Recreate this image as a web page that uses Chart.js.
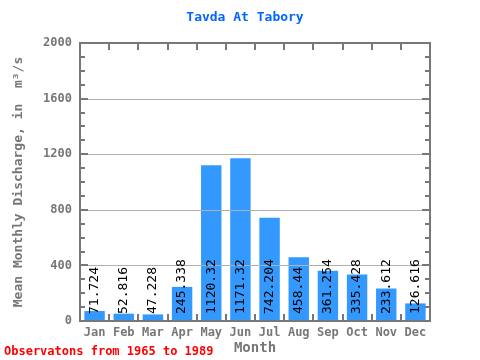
<!DOCTYPE html>
<html>
<head>
<meta charset="utf-8">
<script src="https://cdn.jsdelivr.net/npm/chart.js@4/dist/chart.umd.min.js"></script>
<style>
  body { margin: 0; background: #fff; }
  #wrap { width: 480px; height: 360px; }
</style>
</head>
<body>
<div id="wrap"><canvas id="chart" width="480" height="360"></canvas></div>
<script>
// datos
const months = ["Jan", "Feb", "Mar", "Apr", "May", "Jun", "Jul", "Aug", "Sep", "Oct", "Nov", "Dec"];
const discharge = [71.724, 52.816, 47.228, 245.338, 1120.32, 1171.32, 742.204, 458.44, 361.254, 335.428, 233.612, 126.616];
const yTicks = [0, 400, 800, 1200, 1600, 2000];

const chartTitle = "Tavda At Tabory";
const footerText = "Observatons from 1965 to 1989";
const mono = "'DejaVu Sans Mono', 'Liberation Mono', monospace";

// marco, rejilla, marcas y etiquetas de valores
const framePlugin = {
    id: "frame",
    afterDatasetsDraw(chart) {
        const ctx = chart.ctx;
        const area = chart.chartArea;
        const x = chart.scales.x;
        const y = chart.scales.y;
        ctx.save();

        // lineas de rejilla (encima de las barras)
        ctx.strokeStyle = "#b0b0b0";
        ctx.lineWidth = 1;
        yTicks.slice(1, -1).forEach(v => {
            const py = Math.round(y.getPixelForValue(v)) + 0.5;
            ctx.beginPath();
            ctx.moveTo(area.left, py);
            ctx.lineTo(area.right, py);
            ctx.stroke();
        });

        // valores dentro de las barras
        ctx.fillStyle = "#000";
        ctx.font = "13px " + mono;
        ctx.textAlign = "left";
        ctx.textBaseline = "middle";
        discharge.forEach((v, i) => {
            const px = x.getPixelForValue(i);
            ctx.save();
            ctx.translate(px, area.bottom - 7);
            ctx.rotate(-Math.PI / 2);
            ctx.fillText(String(v), 0, 0);
            ctx.restore();
        });

        // marcas del eje
        ctx.strokeStyle = "#777";
        ctx.lineWidth = 2;
        for (let v = 100; v < 2000; v += 100) {
            const py = Math.round(y.getPixelForValue(v));
            const len = v % 400 === 0 ? 8 : 5;
            ctx.beginPath();
            ctx.moveTo(area.left, py);
            ctx.lineTo(area.left + len, py);
            ctx.moveTo(area.right, py);
            ctx.lineTo(area.right - len, py);
            ctx.stroke();
        }
        for (let i = 1; i < months.length; i++) {
            const px = Math.round((x.getPixelForValue(i - 1) + x.getPixelForValue(i)) / 2);
            ctx.beginPath();
            ctx.moveTo(px, area.bottom);
            ctx.lineTo(px, area.bottom - 7);
            ctx.moveTo(px, area.top);
            ctx.lineTo(px, area.top + 7);
            ctx.stroke();
        }

        // marco
        ctx.strokeRect(area.left, area.top, area.right - area.left, area.bottom - area.top);

        // titulo y pie
        ctx.textBaseline = "middle";
        ctx.textAlign = "center";
        ctx.fillStyle = "#0066ff";
        ctx.font = "bold 13px " + mono;
        ctx.fillText(chartTitle, 245, 18);

        ctx.textAlign = "left";
        ctx.fillStyle = "#ff0000";
        ctx.font = "bold 12px " + mono;
        ctx.fillText(footerText, 4, 352);
        ctx.restore();
    }
};

document.addEventListener("DOMContentLoaded", () => {
    const ctx = document.getElementById("chart").getContext("2d");
    new Chart(ctx, {
        type: "bar",
        data: {
            labels: months,
            datasets: [{
                data: discharge,
                backgroundColor: "#3399ff",
                borderWidth: 0,
                barPercentage: 0.7,
                categoryPercentage: 1.0,
            }],
        },
        options: {
            responsive: false,
            animation: false,
            layout: { padding: { left: 0, right: 50, top: 43, bottom: 0 } },
            plugins: {
                legend: { display: false },
                tooltip: { enabled: false },
            },
            scales: {
                x: {
                    grid: { display: false, drawTicks: false },
                    border: { display: false },
                    ticks: {
                        color: "#777",
                        font: { family: mono, size: 12, weight: "bold" },
                        padding: 5,
                        maxRotation: 0,
                    },
                    title: {
                        display: true,
                        text: "Month",
                        color: "#777",
                        font: { family: mono, size: 14, weight: "bold" },
                        padding: { top: 0, bottom: 3 },
                    },
                    afterFit: scale => { scale.height = 39; },
                },
                y: {
                    min: 0,
                    max: 2000,
                    grid: { display: false, drawTicks: false },
                    border: { display: false },
                    ticks: {
                        stepSize: 400,
                        color: "#777",
                        font: { family: mono, size: 12, weight: "bold" },
                        padding: 8,
                        callback: v => String(v),
                    },
                    title: {
                        display: true,
                        text: "Mean Monthly Discharge, in  m\u00b3/s",
                        color: "#777",
                        font: { family: mono, size: 13, weight: "bold" },
                        padding: { top: 11, bottom: 4 },
                    },
                    afterFit: scale => { scale.width = 80; },
                },
            },
        },
        plugins: [framePlugin],
    });
});
</script>
</body>
</html>
